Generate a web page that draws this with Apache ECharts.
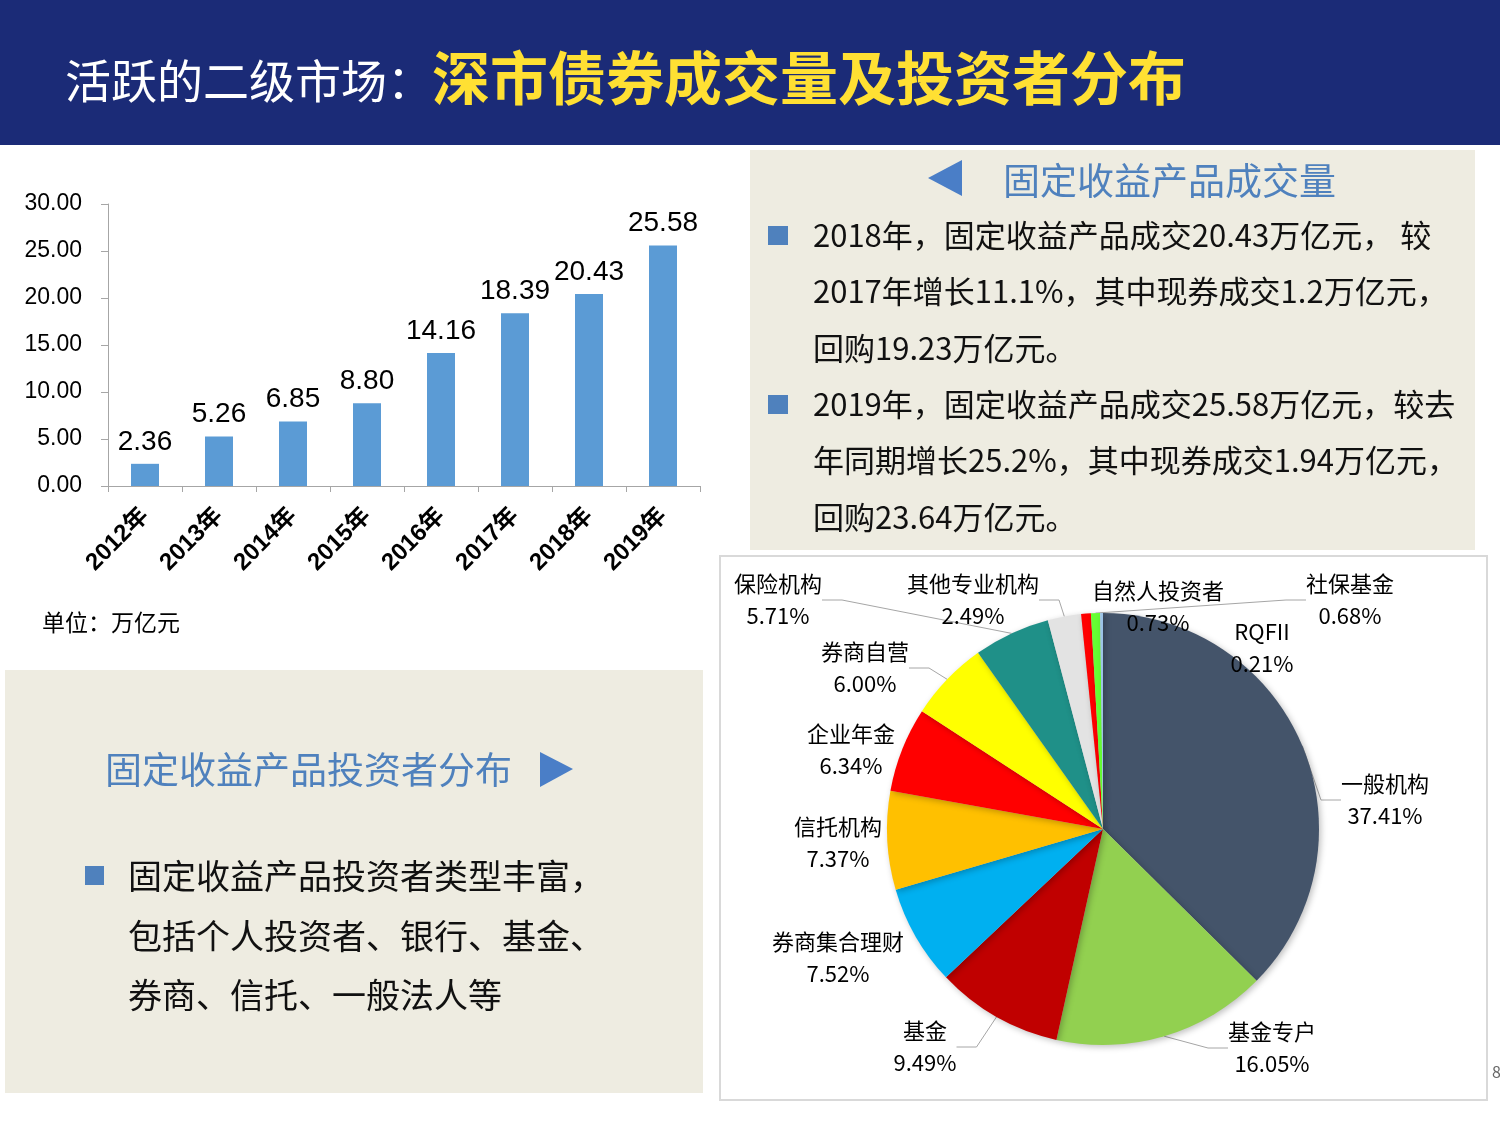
<!DOCTYPE html>
<html><head><meta charset="utf-8">
<script src="https://cdn.jsdelivr.net/npm/echarts@6/dist/echarts.min.js"></script>
<style>html,body{margin:0;padding:0;background:#fff}#c{width:1500px;height:1125px}</style>
</head><body><div id="c"></div>
<script>
// ---- data ----
const years = ['2012年','2013年','2014年','2015年','2016年','2017年','2018年','2019年'];
const volumes = [2.36, 5.26, 6.85, 8.80, 14.16, 18.39, 20.43, 25.58];
const yTicks = [0, 5, 10, 15, 20, 25, 30];
const investorNames = ['一般机构','基金专户','基金','券商集合理财','信托机构','企业年金','券商自营','保险机构','其他专业机构','自然人投资者','社保基金','RQFII'];
const investorShares = [37.41, 16.05, 9.49, 7.52, 7.37, 6.34, 6.00, 5.71, 2.49, 0.73, 0.68, 0.21];

// ---- styling / layout ----
const pieColors = ['#44546A','#92D050','#C00000','#00B0F0','#FFC000','#FF0000','#FFFF00','#1F9088','#E3E3E3','#FF0000','#66FF33','#9DC3E6'];
const pieLabelPos = [[1385,800],[1272,1048],[925,1047],[838,958],[838,843],[851,750],[865,668],[778,600],[973,600],[1158,607],[1350,600],[1262,648]];
const pieLabelLine = [true,true,true,false,false,false,true,true,true,false,true,false];
const FONT = '"Liberation Sans","Noto Sans CJK SC",sans-serif';
const CJK = '"Noto Sans CJK SC","Liberation Sans",sans-serif';

const chart = echarts.init(document.getElementById('c'), null, {renderer:'canvas'});

const bulletBlue = '#4F81BD';
function txt(x, y, s, size, color, extra) {
  return Object.assign({type:'text', x:x, y:y, z:10, style:{text:s, fontSize:size, fill:color, fontFamily:CJK, textVerticalAlign:'middle'}}, extra||{});
}
const rightLines = [
  '2018年，固定收益产品成交20.43万亿元， 较',
  '2017年增长11.1%，其中现券成交1.2万亿元，',
  '回购19.23万亿元。',
  '2019年，固定收益产品成交25.58万亿元，较去',
  '年同期增长25.2%，其中现券成交1.94万亿元，',
  '回购23.64万亿元。'
];
const rightY = [235, 291, 348, 404, 460, 517];
const leftLines = ['固定收益产品投资者类型丰富，','包括个人投资者、银行、基金、','券商、信托、一般法人等'];
const leftY = [876, 936, 995];

const graphics = [
  {type:'rect', z:-10, shape:{x:0,y:0,width:1500,height:145}, style:{fill:'#1B2B77'}},
  {type:'text', z:10, x:65, y:81, style:{text:'活跃的二级市场：', fontSize:46, fill:'#ffffff', fontFamily:CJK, textVerticalAlign:'middle'}},
  {type:'text', z:10, x:432, y:78, style:{text:'深市债券成交量及投资者分布', fontSize:58, fontWeight:'bold', fill:'#FFE033', fontFamily:CJK, textVerticalAlign:'middle'}},
  // right top box
  {type:'rect', z:-10, shape:{x:750,y:150,width:725,height:400}, style:{fill:'#EEECE1'}},
  {type:'polygon', z:10, shape:{points:[[928,178],[962,160],[962,196]]}, style:{fill:'#4A7EC7'}},
  txt(1003, 181, '固定收益产品成交量', 37, '#4F81BD'),
  {type:'rect', z:10, shape:{x:768,y:226,width:20,height:19}, style:{fill:bulletBlue}},
  {type:'rect', z:10, shape:{x:768,y:395,width:20,height:19}, style:{fill:bulletBlue}},
  // left bottom box
  {type:'rect', z:-10, shape:{x:5,y:670,width:698,height:423}, style:{fill:'#EEECE1'}},
  txt(105, 770, '固定收益产品投资者分布', 37, '#4F81BD'),
  {type:'polygon', z:10, shape:{points:[[540,752],[573,769],[540,787]]}, style:{fill:'#4A7EC7'}},
  {type:'rect', z:10, shape:{x:85,y:866,width:19,height:19}, style:{fill:bulletBlue}},
  // pie box
  {type:'rect', z:-10, shape:{x:720,y:556,width:767,height:544}, style:{fill:'#ffffff', stroke:'#D9D9D9', lineWidth:2}},
  // unit
  txt(42, 622, '单位：万亿元', 23, '#000'),
  txt(1492, 1072, '8', 16, '#666')
];
rightLines.forEach((s,i)=>graphics.push(txt(813, rightY[i], s, 31, '#111')));
leftLines.forEach((s,i)=>graphics.push(txt(128, leftY[i], s, 34, '#111')));

const option = {
  animation:false,
  backgroundColor:'#ffffff',
  graphic:{elements:graphics},
  grid:{left:108, top:204, width:592, height:282, containLabel:false},
  xAxis:{
    type:'category', data:years,
    axisLine:{show:true, lineStyle:{color:'#A6A6A6', width:1}},
    axisTick:{show:true, alignWithLabel:false, length:6, lineStyle:{color:'#A6A6A6'}},
    axisLabel:{rotate:45, fontSize:24, fontWeight:'bold', color:'#000', fontFamily:FONT, margin:26, interval:0}
  },
  yAxis:{
    type:'value', min:yTicks[0], max:yTicks[yTicks.length-1], interval:yTicks[1]-yTicks[0],
    axisLine:{show:true, lineStyle:{color:'#A6A6A6'}},
    axisTick:{show:true, length:7, lineStyle:{color:'#A6A6A6'}},
    splitLine:{show:false},
    axisLabel:{fontSize:23, color:'#000', fontFamily:FONT, margin:26, formatter:v=>v.toFixed(2)}
  },
  series:[
    {
      type:'bar', data:volumes, barWidth:28,
      itemStyle:{color:'#5B9BD5'},
      label:{show:true, position:'top', distance:8, fontSize:28, color:'#000', fontFamily:FONT, formatter:p=>p.value.toFixed(2)}
    },
    {
      type:'pie', center:[1103, 829], radius:216, startAngle:90, clockwise:true,
      avoidLabelOverlap:false,
      data:investorNames.map((n,i)=>({name:n, value:investorShares[i], itemStyle:{color:pieColors[i]}, labelLine:{show:pieLabelLine[i]}})),
      itemStyle:{borderWidth:0, shadowBlur:6, shadowColor:'rgba(0,0,0,0.25)', shadowOffsetX:2, shadowOffsetY:2},
      label:{show:true, position:'outside', fontSize:22, lineHeight:32, color:'#000', fontFamily:CJK, align:'center',
        formatter:p=>p.name+'\n'+p.value.toFixed(2)+'%'},
      labelLine:{show:true, length:10, length2:20, lineStyle:{color:'#A6A6A6', width:1}},
      labelLayout:function(params){
        const p = pieLabelPos[params.dataIndex];
        return {x:p[0], y:p[1], align:'center', verticalAlign:'middle'};
      },
      emphasis:{disabled:true}
    }
  ]
};
chart.setOption(option);
</script>
</body></html>
